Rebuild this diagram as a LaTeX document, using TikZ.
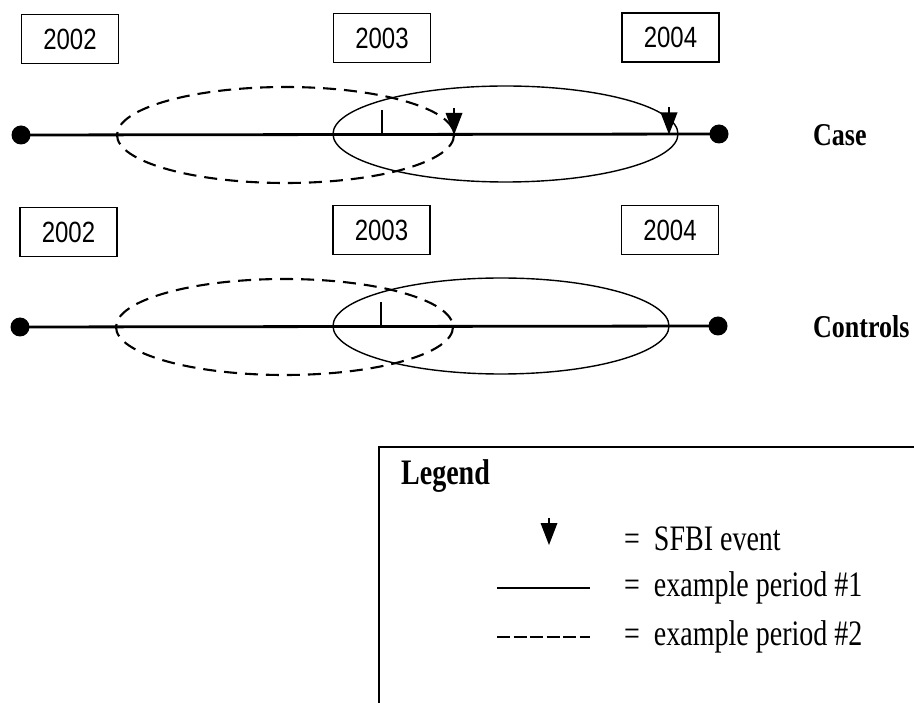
\documentclass[tikz,border=0pt]{standalone}
\usepackage{fontspec}
\usepackage{graphicx}
\setmainfont{Liberation Serif}
\newfontfamily\yearfont{Liberation Sans}
\newcommand\tallt[1]{\scalebox{1}[1.22]{#1}}
\newcommand\tallleg[1]{\scalebox{1}[1.28]{#1}}
\begin{document}
\begin{tikzpicture}[x=1pt,y=-1pt,
  yearbox/.style={draw,line width=1.4pt,inner sep=0pt,minimum width=97pt,minimum height=49pt,font=\yearfont\fontsize{24}{27}\selectfont},
  rowlabel/.style={anchor=west,inner sep=0pt,font=\bfseries\fontsize{26}{30}\selectfont},
  enddot/.style={circle,fill,inner sep=0pt,minimum size=19pt},
  timeline/.style={line width=2.8pt},
  periodone/.style={line width=1.4pt},
  periodtwo/.style={line width=2.1pt,dash pattern=on 13pt off 8pt},
  legtext/.style={anchor=west,inner sep=0pt,font=\fontsize{28}{32}\selectfont},
  evt/.pic={\fill (-8.5,-22) -- (8.5,-22) -- (0,0) -- cycle;
            \draw[line width=1.4pt] (0,-27) -- (0,-21);}]
\useasboundingbox (0,0) rectangle (914,703);
\clip (0,0) rectangle (914,703);
\fill[white] (0,0) rectangle (914,703);

% ---- Case row ----
\node[yearbox] (c02) at (70,39) {\tallt{2002}};
\node[yearbox] (c03) at (382,38) {\tallt{2003}};
\node[yearbox] (c04) at (670.5,37.5) {\tallt{2004}};
\node[enddot] (cL) at (21,135) {};
\node[enddot] (cR) at (719,134) {};
\draw[timeline] (cL.center) -- (cR.center);
\coordinate (ctickb) at (382,135);
\coordinate (ctickt) at (382,110);
\draw[line width=1.3pt] (ctickb) -- (ctickt);
\draw[periodtwo] (285.5,135) ellipse [x radius=168.5, y radius=48];
\draw[periodone] (505.5,134) ellipse [x radius=172.5, y radius=48];
\pic at (454,135) {evt};
\pic at (669,134.5) {evt};
\node[rowlabel] (case) at (813,135) {\tallt{Case}};

% ---- Controls row ----
\node[yearbox] (k02) at (68.5,232) {\tallt{2002}};
\node[yearbox] (k03) at (381.5,230) {\tallt{2003}};
\node[yearbox] (k04) at (670,230) {\tallt{2004}};
\node[enddot] (kL) at (20,327) {};
\node[enddot] (kR) at (718,326) {};
\draw[timeline] (kL.center) -- (kR.center);
\coordinate (ktickb) at (381,326);
\coordinate (ktickt) at (381,302);
\draw[line width=1.3pt] (ktickb) -- (ktickt);
\draw[periodtwo] (284.5,327) ellipse [x radius=168.5, y radius=48];
\draw[periodone] (501,326) ellipse [x radius=168, y radius=48];
\node[rowlabel] (controls) at (813,327) {\tallt{Controls}};

% ---- Legend ----
\draw[line width=1.5pt] (379,447) rectangle (940,730);
\node[legtext,font=\bfseries\fontsize{28}{32}\selectfont] (legtitle) at (401,476) {\tallleg{Legend}};
\pic at (549,545) {evt};
\node[legtext] (lg1) at (624,539) {\tallleg{=\ \ SFBI event}};
\coordinate (s1a) at (497,588);
\coordinate (s1b) at (590,588);
\draw[line width=1.5pt] (s1a) -- (s1b);
\node[legtext] (lg2) at (624,588) {\tallleg{=\ \ example period \#1}};
\coordinate (s2a) at (497,637);
\coordinate (s2b) at (590,637);
\draw[line width=1.3pt,dash pattern=on 13pt off 3.5pt] (s2a) -- (s2b);
\node[legtext] (lg3) at (624,637) {\tallleg{=\ \ example period \#2}};
\end{tikzpicture}
\end{document}
